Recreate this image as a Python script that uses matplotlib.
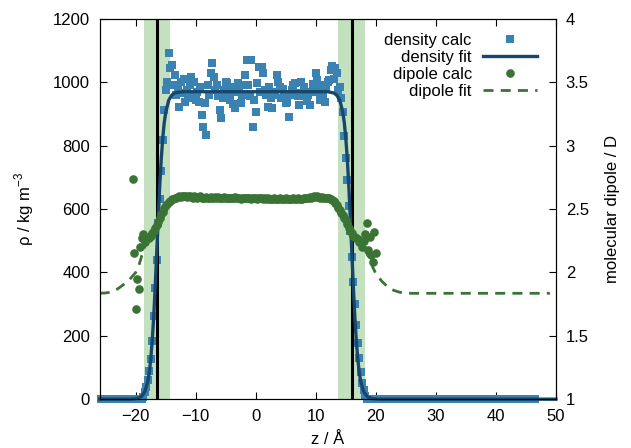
import numpy as np
import matplotlib
matplotlib.use('Agg')
import matplotlib.pyplot as plt
from matplotlib.ticker import FuncFormatter

plt.rcParams['font.family'] = ['Liberation Sans', 'DejaVu Sans']
plt.rcParams['mathtext.fontset'] = 'custom'
plt.rcParams['mathtext.rm'] = 'Liberation Sans'
plt.rcParams['font.size'] = 11

# density calc, bins every 0.25 A starting at -25.75
dens_start = -25.75
dens_step = 0.25
dens_left_tail = [0] * 28
dens_mid = [
    8, 22, 38, 62, 90, 128, 185, 262, 350, 440,
    555, 630, 720, 818, 912, 976, 1000, 1092, 1044,
    # plateau -14.0 .. 13.75
    1055, 990, 1023, 960, 986, 923, 1000, 965, 1010, 939,
    975, 950, 991, 1018, 960, 1000, 945, 970, 939, 985,
    897, 860, 934, 834, 991, 960, 1028, 1060, 1017, 975,
    990, 955, 912, 886, 950, 975, 1000, 997, 960, 944,
    985, 930, 918, 970, 997, 985, 934, 960, 990, 1023,
    1070, 991, 955, 1070, 860, 944, 907, 997, 1049, 970,
    1049, 1028, 975, 960, 923, 985, 950, 918, 970, 960,
    1023, 1002, 985, 950, 980, 960, 935, 939, 891, 960,
    975, 990, 997, 965, 955, 928, 1000, 955, 985, 970,
    940, 960, 928, 970, 995, 985, 1028, 1007, 970, 944,
    990, 960, 939, 985, 1000, 1007, 1040, 1050, 1010, 1045,
    1028, 976,
    # right edge 14.0 .. 18.5
    985, 950, 905, 830, 760, 690, 610, 530, 450, 370,
    300, 235, 176, 129, 86, 52, 28, 10, 2,
]
dens_right_tail = [0] * 112
dens_rho = dens_left_tail + dens_mid + dens_right_tail
dens_z = dens_start + dens_step * np.arange(len(dens_rho))

# density fit
fit_z = [-26, -21, -20, -19.5, -19, -18.5, -18, -17.75, -17.5, -17.25, -17,
         -16.75, -16.5, -16.25, -16, -15.75, -15.5, -15.25, -15, -14.5, -14,
         -13.5, -13, -12,
         12, 12.5, 13, 13.5, 14, 14.5, 14.75, 15, 15.25, 15.5, 15.75, 16,
         16.25, 16.5, 16.75, 17, 17.25, 17.5, 18, 18.5, 19, 19.5, 20.5, 50]
fit_rho = [0, 0, 1.5, 3.9, 9.3, 23, 55, 83, 125, 184, 261,
           356, 463, 572, 673, 757, 823, 872, 905, 943, 959,
           966, 968, 970,
           970, 968, 966, 959, 943, 905, 872, 823, 757, 673, 572, 463,
           356, 261, 184, 125, 83, 55, 23, 9.3, 3.9, 1.5, 0, 0]

# dipole calc, every 0.25 A from -20.5
dip_start = -20.5
dip_step = 0.25
dip_vals = [
    2.74, 2.15, 1.71, 1.95, 1.87, 2.20, 2.27, 2.30, 2.24, 2.27,
    2.28, 2.27, 2.29, 2.31, 2.33, 2.35, 2.37, 2.40, 2.43, 2.46,
    2.48, 2.51, 2.53, 2.54, 2.555, 2.565, 2.575, 2.58, 2.585,
    # plateau -13.25 .. 11.75
    2.59, 2.595, 2.60, 2.595, 2.60, 2.605, 2.60, 2.595, 2.60, 2.60,
    2.595, 2.59, 2.60, 2.595, 2.59, 2.595, 2.60, 2.59, 2.585, 2.59,
    2.595, 2.59, 2.59, 2.595, 2.585, 2.59, 2.595, 2.59, 2.595, 2.59,
    2.585, 2.59, 2.595, 2.59, 2.585, 2.59, 2.59, 2.585, 2.59, 2.595,
    2.59, 2.585, 2.59, 2.58, 2.585, 2.59, 2.59, 2.585, 2.59, 2.585,
    2.58, 2.585, 2.59, 2.585, 2.58, 2.585, 2.59, 2.585, 2.58, 2.585,
    2.58, 2.585, 2.58, 2.575, 2.58, 2.585, 2.58, 2.575, 2.58, 2.585,
    2.58, 2.575, 2.58, 2.585, 2.58, 2.58, 2.575, 2.58, 2.585, 2.58,
    2.58, 2.585, 2.58, 2.575, 2.58, 2.585, 2.59, 2.585, 2.59, 2.595,
    2.59, 2.595, 2.60, 2.595, 2.60, 2.595, 2.59, 2.595, 2.59, 2.59,
    2.59,
    # right edge 12.0 .. 20.0
    2.59, 2.585, 2.58, 2.57, 2.56, 2.55, 2.53, 2.51, 2.49, 2.47,
    2.45, 2.43, 2.41, 2.38, 2.35, 2.33, 2.31, 2.29, 2.28, 2.27,
    2.26, 2.24, 2.23, 2.20, 2.25, 2.30, 2.39, 2.18, 2.28, 2.14,
    2.08, 2.32, 2.15,
]
dip_z = dip_start + dip_step * np.arange(len(dip_vals))

# dipole fit
dfit_z = [-26, -25, -24, -23, -22, -21, -20, -19.5, -19, -18.5, -18, -17.5,
          -17, -16, -15, -14, -13, -12, -10, 10, 12, 13, 14, 15, 16, 17,
          17.5, 18, 18.5, 19, 19.5, 20, 21, 22, 23, 24, 25, 26, 49]
dfit_val = [1.835, 1.838, 1.845, 1.87, 1.905, 1.945, 2.00, 2.05, 2.13, 2.20,
            2.25, 2.29, 2.33, 2.43, 2.53, 2.575, 2.585, 2.588, 2.59, 2.59,
            2.588, 2.56, 2.49, 2.41, 2.31, 2.26, 2.23, 2.20, 2.15, 2.10,
            2.04, 1.99, 1.93, 1.885, 1.858, 1.843, 1.837, 1.835, 1.835]

# interface positions and shaded widths
interfaces = [-16.44, 15.95]
band_half = 2.2

c_dens = '#3a82b2'
c_fit = '#17476a'
c_dip = '#3a7434'
c_band = '#c4e1bf'

fig = plt.figure(figsize=(6.31, 4.48), dpi=100)
ax = fig.add_axes([0.158, 0.109, 0.723, 0.849])
ax2 = ax.twinx()

for zi in interfaces:
    ax.axvspan(zi - band_half, zi + band_half, color=c_band, lw=0, zorder=0)

h1, = ax.plot(dens_z, dens_rho, 's', color=c_dens, ms=5.8, mew=0,
              clip_on=False, zorder=2, label='density calc')
for zi in interfaces:
    ax.axvline(zi, color='black', lw=2.2, zorder=2.5)
h2, = ax.plot(fit_z, fit_rho, '-', color=c_fit, lw=2.4, zorder=3,
              label='density fit', clip_on=False)

h4, = ax2.plot(dfit_z, dfit_val, '--', color=c_dip, lw=2.0, dashes=(3.6, 2.6),
               zorder=2, label='dipole fit')
h3, = ax2.plot(dip_z, dip_vals, 'o', color=c_dip, ms=6.2, mew=0,
               zorder=3, label='dipole calc')

ax.set_xlim(-26, 50)
ax.set_ylim(0, 1200)
ax2.set_ylim(1, 4)
ax.set_xticks([-20, -10, 0, 10, 20, 30, 40, 50])
ax.set_yticks([0, 200, 400, 600, 800, 1000, 1200])
ax2.set_yticks([1, 1.5, 2, 2.5, 3, 3.5, 4])
ax2.yaxis.set_major_formatter(FuncFormatter(lambda v, p: '%g' % v))

ax.tick_params(axis='x', direction='in', top=True, length=5, pad=7, labelsize=12)
ax.tick_params(axis='y', direction='in', right=False, length=5, pad=7, labelsize=12)
ax2.tick_params(axis='y', direction='in', length=5, pad=7, labelsize=12)

ax.set_xlabel('z / Å', fontsize=12, labelpad=6)
ax.set_ylabel(r'ρ / kg m$^{-3}$', fontsize=12, labelpad=12)
ax2.set_ylabel('molecular dipole / D', fontsize=12, labelpad=12)

leg = ax2.legend(handles=[h1, h2, h3, h4], loc='upper right',
                 bbox_to_anchor=(0.958, 0.962), frameon=False, markerfirst=False,
                 numpoints=1, handlelength=3.2, handletextpad=0.7,
                 labelspacing=0.12, borderpad=0, borderaxespad=0, fontsize=12)
leg._legend_box.align = 'right'

fig.savefig('out.png', dpi=100)
